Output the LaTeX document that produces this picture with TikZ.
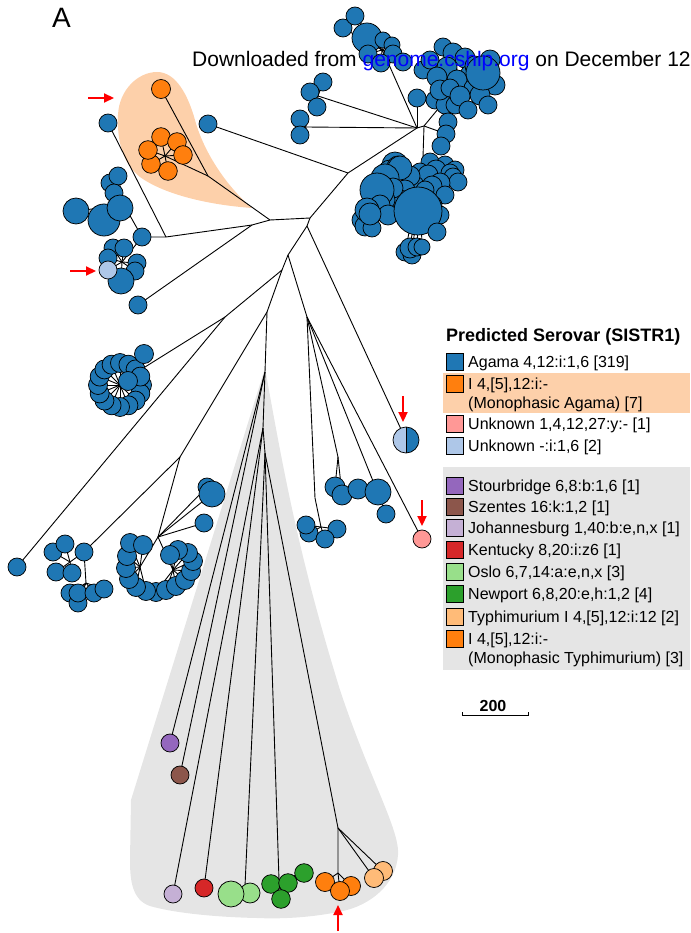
\documentclass[tikz,border=0pt]{standalone}
\usepackage{fontspec}
\setmainfont{Liberation Sans}
\usepackage{graphicx}
\usetikzlibrary{arrows.meta}
\definecolor{cblue}{HTML}{1F77B4}
\definecolor{corange}{HTML}{FF7F0E}
\definecolor{clblue}{HTML}{AEC7E8}
\definecolor{cpink}{HTML}{FF9896}
\definecolor{cpurple}{HTML}{9467BD}
\definecolor{cbrown}{HTML}{8C564B}
\definecolor{clav}{HTML}{C5B0D5}
\definecolor{cred}{HTML}{D62728}
\definecolor{clgreen}{HTML}{98DF8A}
\definecolor{cgreen}{HTML}{2CA02C}
\definecolor{clorange}{HTML}{FFBB78}
\definecolor{cpeach}{HTML}{FDD0AA}
\definecolor{cgrayb}{HTML}{E5E5E5}
\definecolor{clink}{HTML}{0000FF}
\def\LTop{343/28/9, 355/16/9, 367/38/15, 383/40/8, 392/45/8, 368/54/9, 393/54/9, 381/63/9, 403/62/9}
\def\LUlA{323/82/9, 310/92/9, 317/107/9}
\def\LUlB{300/119/9, 300/135/9}
\def\LRight{443/47/9, 453/53/10, 465/58/10, 490/60/10, 423/70/9, 430/60/9, 447/67/10, 437/77/10, 470/75/10, 457/80/10, 475/66/10, 473/88/9, 495/85/10, 480/95/10, 435/100/9, 445/105/9, 455/105/9, 440/90/10, 450/88/9, 460/96/10, 468/110/9, 488/105/9, 483/73/17}
\def\LRc{448/122/9, 446/134/9, 441/146/9}
\def\LLow{430/162/9, 445/165/9, 455/170/9, 420/172/9, 436/170/10, 450/173/9, 453/177/9, 458/182/9, 428/175/10, 440/183/10, 432/186/10, 445/195/9, 415/185/9, 425/190/9, 410/176/10, 405/190/10, 400/200/10, 395/165/13, 390/172/12, 398/167/11, 400/168/12, 385/178/14, 393/188/10, 385/200/10, 377/190/17, 380/205/10, 388/215/10, 362/220/10, 365/226/10, 372/228/9, 367/210/12, 370/214/11, 433/205/9, 440/215/9, 418/211/24, 437/232/9, 405/252/9, 412/255/9, 410/248/10, 417/247/9, 422/247/8}
\def\LOr{161/137/9.3, 177/142/9.3, 183/155/9.3, 168/171/9.3, 151/164/9.3, 148/150/9.3}
\def\LHa{110/183/9, 118/176/9, 114/193/9, 76/211/13, 104/220/16, 120/208/13}
\def\LHb{113/248/9, 124/248/9, 137/263/9, 135/271/9, 108/258/9, 121/281/13}
\def\LLBa{53/552/9, 65/544/9, 56/572/9, 72/573/9}
\def\LLBb{70/593/9, 78/603/9, 78/593/9, 94/593/9, 104/589/9}
\def\LHsA{146/591/9.5, 136/587/9.5, 129/579/9.5, 126/568/9.5, 127/556/9.5, 130/543/9.5, 143/545/9.5}
\def\LHsB{156/592/9.5, 166/590/9.5, 176/586/9.5, 185/580/9.5, 191/571/9.5, 193/561/9.5, 188/553/9.5, 178/550/9.5, 170/555/9.5}
\def\LRB{207/487/9, 212/494/13, 204/523/9}
\def\LQa{309/533/9, 306/525/9, 337/529/9, 325/539/9}
\def\LQb{335/487/10, 342/495/10}
\def\LQc{358/489/10, 386/514/9, 378/492/13}
\def\LOrT{325/882/9.5, 351/886/9.5, 340/891/9.5}
\def\LGr{271/884/9.3, 288/883/9.3, 304/873/9.3, 281/899/9.3}
\def\LLo{383/871/9.5, 374/878/9.5}
\def\LLg{250/893/10, 231/894/13}
\newcommand\myspokes[3]{\foreach \xx/\yy/\rr [count=\cc] in #3 {\coordinate (#2\cc) at (\xx,\yy); \draw[edge] (#1) -- (#2\cc);}}
\newcommand\mycircles[3]{\foreach \xx/\yy/\rr [count=\cc] in #3 {\node[leaf, fill=#1, minimum size=2pt*\rr] (#2n\cc) at (#2\cc) {};}}
\begin{document}
\begin{tikzpicture}[x=1pt,y=-1pt,
  edge/.style={draw=black, line width=0.9pt},
  leaf/.style={circle, draw=black, line width=0.75pt, inner sep=0pt},
  sq/.style={rectangle, draw=black, line width=0.75pt, minimum size=17pt, inner sep=0pt},
  lgtext/.style={anchor=base west, inner sep=0pt, font=\fontsize{16}{19}\selectfont},
  redarrow/.style={draw=red, line width=2.2pt, -{Triangle[length=10pt,width=9pt]}}]
\useasboundingbox (0,0) rectangle (690,933);
% backgrounds
\path[fill=cpeach] (157,72) .. controls (176,72) and (188,95) .. (195,120) .. controls (203,150) and (225,185) .. (252,208) .. controls (210,205) and (165,195) .. (140,177) .. controls (122,163) and (117,140) .. (118,115) .. controls (119,90) and (138,72) .. (157,72) -- cycle;
\path[fill=cgrayb] (265,368) .. controls (285,480) and (300,560) .. (340,690) .. controls (370,780) and (400,830) .. (398,855) .. controls (396,885) and (370,905) .. (343,911) .. controls (310,918) and (280,919) .. (257,918) .. controls (210,917) and (170,912) .. (150,906) .. controls (132,900) and (130,880) .. (130,860) -- (131,800) -- cycle;
\path[fill=cpeach] (443,373) rectangle (690,413);
\path[fill=cgrayb] (443,467) rectangle (690,670);
% junctions
\coordinate (J1) at (270,220); \coordinate (J2) at (310,218);
\coordinate (Jm) at (348,173); \coordinate (Jur) at (417,128);
\coordinate (Jur2) at (424,126); \coordinate (Jtop) at (390,67);
\coordinate (HTop) at (382,50); \coordinate (HUlA) at (318,96);
\coordinate (HUlB) at (306,127); \coordinate (Jr) at (443,103);
\coordinate (HR) at (460,82); \coordinate (HRc) at (438,131);
\coordinate (Jlow) at (423,157); \coordinate (HLow) at (420,180);
\coordinate (P) at (307,226); \coordinate (N3) at (288,255);
\coordinate (K) at (282,270); \coordinate (L) at (267,312);
\coordinate (A0) at (265,372); \coordinate (S1) at (263,428);
\coordinate (S2) at (265,453); \coordinate (N4) at (225,317);
\coordinate (Rj) at (137,372); \coordinate (RC) at (120,385);
\coordinate (Q) at (307,317); \coordinate (Qa) at (315,498);
\coordinate (HQa) at (321,527); \coordinate (Qb) at (338,457);
\coordinate (Qc) at (375,486); \coordinate (J5) at (180,457);
\coordinate (HLBa) at (70,562); \coordinate (HLBb) at (86,583);
\coordinate (RB1) at (158,537); \coordinate (HHa) at (140,567);
\coordinate (HHb) at (173,570); \coordinate (Jo) at (208,176);
\coordinate (HOr) at (165,156); \coordinate (Ja) at (252,225);
\coordinate (Jb) at (166,237); \coordinate (H1) at (124,205);
\coordinate (H2) at (122,262); \coordinate (Jt) at (338,828);
\coordinate (HOr2) at (338,873); \coordinate (HG) at (279,880);
\coordinate (HLg) at (245,886);
% single leaves
\coordinate (s208) at (208,124); \coordinate (s417) at (417,98);
\coordinate (sOr) at (161,89); \coordinate (s108) at (108,123);
\coordinate (s138) at (138,305); \coordinate (sJc) at (142,237);
\coordinate (sRx) at (144,354); \coordinate (sRi) at (128,381);
\coordinate (s17) at (17,567); \coordinate (sLB) at (84,552);
\coordinate (sSplit) at (406,440); \coordinate (sPink) at (422,539);
\coordinate (sPur) at (170,743); \coordinate (sBro) at (180,775);
\coordinate (sLav) at (173,894); \coordinate (sRed) at (204,888);
\coordinate (sLb) at (108,270);
% tree edges
\draw[edge] (J1) -- (J2) -- (Jm) -- (Jur);
\draw[edge] (Jm) -- (s208);
\draw[edge] (Jur) -- (HUlA); \draw[edge] (Jur) -- (HUlB);
\draw[edge] (Jur) -- (Jtop) -- (HTop); \draw[edge] (Jur) -- (s417);
\draw[edge] (Jur) -- (Jur2) -- (Jr) -- (HR);
\draw[edge] (Jur2) -- (HRc); \draw[edge] (Jur2) -- (Jlow) -- (HLow);
\draw[edge] (J2) -- (P) -- (N3); \draw[edge] (P) -- (sSplit);
\draw[edge] (N3) -- (K); \draw[edge] (N3) -- (Q);
\draw[edge] (K) -- (L); \draw[edge] (K) -- (N4) -- (Rj) -- (RC);
\draw[edge] (Rj) -- (sRx); \draw[edge] (N4) -- (s17);
\draw[edge] (L) -- (A0); \draw[edge] (L) -- (J5);
\draw[edge] (J5) -- (sLB); \draw[edge] (sLB) -- (HLBa); \draw[edge] (sLB) -- (HLBb);
\draw[edge] (J5) -- (RB1); \draw[edge] (RB1) -- (HHa); \draw[edge] (RB1) -- (HHb);
\draw[edge] (Q) -- (Qa) -- (HQa); \draw[edge] (Q) -- (Qb); \draw[edge] (Q) -- (Qc);
\draw[edge] (Q) -- (sPink);
\draw[edge] (A0) -- (sPur); \draw[edge] (A0) -- (sBro);
\draw[edge] (A0) -- (S1) -- (S2);
\draw[edge] (S1) -- (sLav); \draw[edge] (S1) -- (sRed);
\draw[edge] (S2) -- (HLg); \draw[edge] (S2) -- (HG); \draw[edge] (S2) -- (Jt) -- (HOr2);
\draw[edge] (J1) -- (Jo) -- (sOr); \draw[edge] (Jo) -- (HOr);
\draw[edge] (J1) -- (Ja) -- (Jb) -- (sJc); \draw[edge] (Ja) -- (s138);
\draw[edge] (Jb) -- (s108);
\draw[edge] (sJc) -- (H1); \draw[edge] (sJc) -- (H2); \draw[edge] (H2) -- (sLb);
% spokes
\myspokes{HTop}{tp}{\LTop}
\myspokes{HUlA}{ua}{\LUlA}
\myspokes{HUlB}{ub}{\LUlB}
\myspokes{HR}{rr}{\LRight}
\myspokes{HRc}{rc}{\LRc}
\myspokes{HLow}{lw}{\LLow}
\myspokes{HOr}{or}{\LOr}
\myspokes{H1}{ha}{\LHa}
\myspokes{H2}{hb}{\LHb}
\myspokes{HLBa}{la}{\LLBa}
\myspokes{HLBb}{lb}{\LLBb}
\myspokes{HHa}{sa}{\LHsA}
\myspokes{HHb}{sb}{\LHsB}
\myspokes{RB1}{rb}{\LRB}
\myspokes{HQa}{qa}{\LQa}
\myspokes{Qb}{qb}{\LQb}
\myspokes{Qc}{qc}{\LQc}
\myspokes{HOr2}{ot}{\LOrT}
\myspokes{HG}{gr}{\LGr}
\myspokes{Jt}{lo}{\LLo}
\myspokes{HLg}{lg}{\LLg}
\foreach \a [count=\cc] in {0,22.5,...,337.5} {\coordinate (rg\cc) at ([shift={(\a:22)}]RC); \draw[edge] (RC) -- (rg\cc);}
% circles
\mycircles{cblue}{tp}{\LTop}
\mycircles{cblue}{ua}{\LUlA}
\mycircles{cblue}{ub}{\LUlB}
\mycircles{cblue}{rr}{\LRight}
\mycircles{cblue}{rc}{\LRc}
\mycircles{cblue}{lw}{\LLow}
\mycircles{corange}{or}{\LOr}
\mycircles{cblue}{ha}{\LHa}
\mycircles{cblue}{hb}{\LHb}
\mycircles{cblue}{la}{\LLBa}
\mycircles{cblue}{lb}{\LLBb}
\mycircles{cblue}{sb}{\LHsB}
\mycircles{cblue}{sa}{\LHsA}
\mycircles{cblue}{rb}{\LRB}
\mycircles{cblue}{qa}{\LQa}
\mycircles{cblue}{qb}{\LQb}
\mycircles{cblue}{qc}{\LQc}
\mycircles{corange}{ot}{\LOrT}
\mycircles{cgreen}{gr}{\LGr}
\mycircles{clorange}{lo}{\LLo}
\mycircles{clgreen}{lg}{\LLg}
\foreach \cc in {1,...,16} {\node[leaf, fill=cblue, minimum size=19pt] (rgn\cc) at (rg\cc) {};}
\node[leaf, fill=cblue, minimum size=18pt] (n208) at (s208) {};
\node[leaf, fill=cblue, minimum size=18pt] (n417) at (s417) {};
\node[leaf, fill=corange, minimum size=19pt] (nOr) at (sOr) {};
\node[leaf, fill=cblue, minimum size=18pt] (n108) at (s108) {};
\node[leaf, fill=cblue, minimum size=18pt] (n138) at (s138) {};
\node[leaf, fill=cblue, minimum size=18pt] (nJc) at (sJc) {};
\node[leaf, fill=cblue, minimum size=19pt] (nRx) at (sRx) {};
\node[leaf, fill=cblue, minimum size=19pt] (nRi) at (sRi) {};
\node[leaf, fill=cblue, minimum size=18pt] (n17) at (s17) {};
\node[leaf, fill=cblue, minimum size=18pt] (nLB) at (sLB) {};
\node[leaf, fill=clblue, minimum size=18pt] (nLb) at (sLb) {};
\node[leaf, fill=cpink, minimum size=18pt] (nPink) at (sPink) {};
\node[leaf, fill=cpurple, minimum size=18pt] (nPur) at (sPur) {};
\node[leaf, fill=cbrown, minimum size=18pt] (nBro) at (sBro) {};
\node[leaf, fill=clav, minimum size=18pt] (nLav) at (sLav) {};
\node[leaf, fill=cred, minimum size=18pt] (nRed) at (sRed) {};
\fill[clblue] (sSplit) ++(90:13) arc[start angle=90, end angle=270, radius=13] -- cycle;
\fill[cblue] (sSplit) ++(-90:13) arc[start angle=-90, end angle=90, radius=13] -- cycle;
\node[leaf, minimum size=26pt] (nSplit) at (sSplit) {};
\draw[edge] (nSplit.north) -- (nSplit.south);
% top texts
\node[anchor=base west, inner sep=0pt, font=\fontsize{28}{32}\selectfont] (lblA) at (52,28) {A};
\begin{scope}
\clip (0,0) rectangle (690,933);
\node[anchor=base west, inner sep=0pt, font=\fontsize{21}{25}\selectfont] (dl) at (192,67) {Downloaded from \textcolor{clink}{genome.cshlp.org} on December 12};
\end{scope}
% red arrows
\coordinate (ar1s) at (88,98); \coordinate (ar1e) at (114,98);
\coordinate (ar2s) at (70,271); \coordinate (ar2e) at (96,271);
\coordinate (ar3s) at (403,396); \coordinate (ar3e) at (403,422);
\coordinate (ar4s) at (422,500); \coordinate (ar4e) at (422,526);
\coordinate (ar5s) at (338,931); \coordinate (ar5e) at (338,905);
\draw[redarrow] (ar1s) -- (ar1e);
\draw[redarrow] (ar2s) -- (ar2e);
\draw[redarrow] (ar3s) -- (ar3e);
\draw[redarrow] (ar4s) -- (ar4e);
\draw[redarrow] (ar5s) -- (ar5e);
% legend
\node[anchor=base west, inner sep=0pt, font=\bfseries\fontsize{18}{22}\selectfont] (lgt) at (446,341) {Predicted Serovar (SISTR1)};
\node[sq, fill=cblue] (k1) at (455,362) {};
\node[lgtext] (t1) at (468,367) {Agama 4,12:i:1,6 [319]};
\node[sq, fill=corange] (k2) at (455,384) {};
\node[lgtext] (t2) at (468,389) {I 4,[5],12:i:-};
\node[lgtext] (t2b) at (468,408) {(Monophasic Agama) [7]};
\node[sq, fill=cpink] (k3) at (455,424) {};
\node[lgtext] (t3) at (468,429) {Unknown 1,4,12,27:y:- [1]};
\node[sq, fill=clblue] (k4) at (455,446) {};
\node[lgtext] (t4) at (468,451) {Unknown -:i:1,6 [2]};
\node[sq, fill=cpurple] (k5) at (455,486) {};
\node[lgtext] (t5) at (468,491) {Stourbridge 6,8:b:1,6 [1]};
\node[sq, fill=cbrown] (k6) at (455,507) {};
\node[lgtext] (t6) at (468,512) {Szentes 16:k:1,2 [1]};
\node[sq, fill=clav] (k7) at (455,528) {};
\node[lgtext] (t7) at (468,533) {Johannesburg 1,40:b:e,n,x [1]};
\node[sq, fill=cred] (k8) at (455,550) {};
\node[lgtext] (t8) at (468,555) {Kentucky 8,20:i:z6 [1]};
\node[sq, fill=clgreen] (k9) at (455,572) {};
\node[lgtext] (t9) at (468,577) {Oslo 6,7,14:a:e,n,x [3]};
\node[sq, fill=cgreen] (k10) at (455,594) {};
\node[lgtext] (t10) at (468,599) {Newport 6,8,20:e,h:1,2 [4]};
\node[sq, fill=clorange] (k11) at (455,617) {};
\node[lgtext] (t11) at (468,622) {Typhimurium I 4,[5],12:i:12 [2]};
\node[sq, fill=corange] (k12) at (455,639) {};
\node[lgtext] (t12) at (468,644) {I 4,[5],12:i:-};
\node[lgtext] (t12b) at (468,663) {(Monophasic Typhimurium) [3]};
% scale bar
\node[anchor=base, inner sep=0pt, font=\bfseries\fontsize{16}{19}\selectfont] (sc) at (493,711) {200};
\coordinate (sbl) at (462,712); \coordinate (sbl2) at (462,715.5);
\coordinate (sbr) at (528,712); \coordinate (sbr2) at (528,715.5);
\draw[line width=0.9pt] (sbl) -- (sbl2) -- (sbr2) -- (sbr);
\end{tikzpicture}
\end{document}
